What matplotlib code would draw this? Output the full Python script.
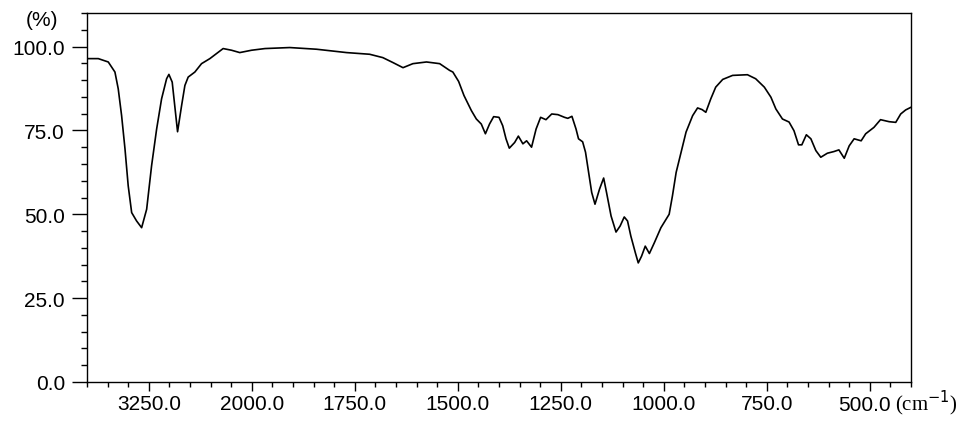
import numpy as np
import matplotlib
matplotlib.use('Agg')
import matplotlib.pyplot as plt
from matplotlib.ticker import FixedLocator, FixedFormatter

# IR spectrum (wavenumber cm-1, transmittance %)
wavenumber = [4000, 3863, 3742, 3661, 3621, 3580, 3539, 3500, 3458, 3398,
              3337, 3276, 3216, 3155, 3095, 3034, 3006, 2966, 2901, 2852,
              2812, 2772, 2691, 2610, 2509, 2428, 2348, 2246, 2146, 2003,
              1968, 1908, 1843, 1770, 1714, 1682, 1657, 1633, 1609, 1576,
              1544, 1520, 1512, 1498, 1485, 1467, 1455, 1443, 1433, 1423,
              1413, 1400, 1391, 1383, 1375, 1362, 1353, 1342, 1333, 1321,
              1310, 1299, 1286, 1272, 1257, 1241, 1233, 1223, 1213, 1207,
              1197, 1190, 1185, 1175, 1167, 1156, 1146, 1139, 1128, 1116,
              1106, 1096, 1088, 1080, 1069, 1062, 1054, 1045, 1035, 1023,
              1007, 987, 979, 970, 958, 946, 930, 918, 907, 898,
              886, 874, 857, 833, 797, 777, 756, 740, 728, 712,
              696, 684, 673, 665, 654, 643, 631, 619, 603, 587,
              575, 562, 550, 538, 521, 510, 490, 474, 453, 437,
              425, 413, 400]
transmittance = [96.4, 96.4, 95.4, 92.4, 87.4, 79.4, 69.5, 58.5, 50.5, 48.0,
                 46.0, 51.5, 64.5, 75.4, 84.4, 90.4, 91.7, 89.4, 74.6, 82.4,
                 88.4, 90.9, 92.4, 94.9, 96.4, 97.9, 99.4, 98.9, 98.2, 98.9,
                 99.4, 99.7, 99.2, 98.2, 97.7, 96.7, 95.2, 93.7, 94.9, 95.4,
                 94.9, 92.9, 92.4, 89.6, 85.4, 80.9, 78.4, 76.9, 74.0, 76.9,
                 79.1, 78.9, 76.4, 72.5, 69.7, 71.4, 73.3, 71.0, 71.9, 70.0,
                 75.4, 78.9, 78.2, 79.9, 79.7, 78.9, 78.6, 79.2, 75.4, 72.5,
                 71.6, 68.5, 64.5, 56.5, 53.0, 57.5, 60.8, 56.5, 49.5, 44.7,
                 46.5, 49.2, 48.0, 43.5, 38.5, 35.5, 37.5, 40.5, 38.3, 41.5,
                 46.0, 50.0, 55.5, 62.5, 68.5, 74.5, 79.4, 81.7, 81.2, 80.4,
                 84.4, 87.9, 90.2, 91.4, 91.6, 90.4, 87.9, 84.9, 81.4, 78.4,
                 77.5, 74.9, 70.7, 70.7, 73.7, 72.5, 69.0, 67.0, 68.2, 68.7,
                 69.2, 66.7, 70.4, 72.5, 71.9, 74.0, 75.9, 78.2, 77.6, 77.4,
                 79.9, 81.1, 81.9]

major_x = [3250, 2000, 1750, 1500, 1250, 1000, 750, 500]
minor_x = [4000, 3750, 3500, 3000, 2750, 2500, 2250] + list(range(1950, 399, -50))
major_y = [0, 25, 50, 75, 100]
minor_y = list(range(0, 111, 5))

plt.rcParams['font.family'] = ['Liberation Sans', 'DejaVu Sans']


# 4000-2000 drawn at 1/5 scale, as on the instrument chart
def fwd(x):
    x = np.asarray(x, dtype=float)
    return np.where(x > 2000, 2000 + (x - 2000) / 5.0, x)


def inv(u):
    u = np.asarray(u, dtype=float)
    return np.where(u > 2000, 2000 + (u - 2000) * 5.0, u)


fig = plt.figure(figsize=(9.63, 4.31), dpi=100)
ax = fig.add_axes([87 / 963, 1 - 383 / 431, (911 - 87) / 963, (383 - 14) / 431])

ax.plot(wavenumber, transmittance, color='black', linewidth=1.2)

ax.set_xscale('function', functions=(fwd, inv))
ax.set_xlim(4000, 400)
ax.set_ylim(0, 110)

ax.xaxis.set_major_locator(FixedLocator(major_x))
ax.xaxis.set_minor_locator(FixedLocator(minor_x))
ax.xaxis.set_major_formatter(FixedFormatter(['%.1f' % v if v != 500 else '' for v in major_x]))
ax.xaxis.set_minor_formatter(FixedFormatter([''] * len(minor_x)))
ax.yaxis.set_major_locator(FixedLocator(major_y))
ax.yaxis.set_minor_locator(FixedLocator(minor_y))
ax.yaxis.set_major_formatter(FixedFormatter(['%.1f' % v for v in major_y]))

ax.tick_params(axis='x', which='major', direction='out', length=6.5, width=1, pad=2, labelsize=15)
ax.tick_params(axis='x', which='minor', direction='out', length=3.6, width=1)
ax.tick_params(axis='y', which='major', direction='out', length=10.8, width=1, pad=5, labelsize=15)
ax.tick_params(axis='y', which='minor', direction='out', length=4.3, width=1)

for sp in ax.spines.values():
    sp.set_linewidth(1.0)

# 500.0 label sits a little left of its tick to make room for the unit
ax.annotate('500.0', xy=(500, 0), xycoords=('data', 'axes fraction'),
            xytext=(-5, -28), textcoords='offset pixels', ha='center', va='baseline', fontsize=15)
ax.annotate('(cm$^{-1}$)', xy=(500, 0), xycoords=('data', 'axes fraction'),
            xytext=(25, -28), textcoords='offset pixels', ha='left', va='baseline',
            fontsize=15, family='Liberation Serif')
fig.text(42 / 963, 1 - 21 / 431, '(%)', ha='center', va='center', fontsize=15)

fig.savefig('out.png', dpi=100)
